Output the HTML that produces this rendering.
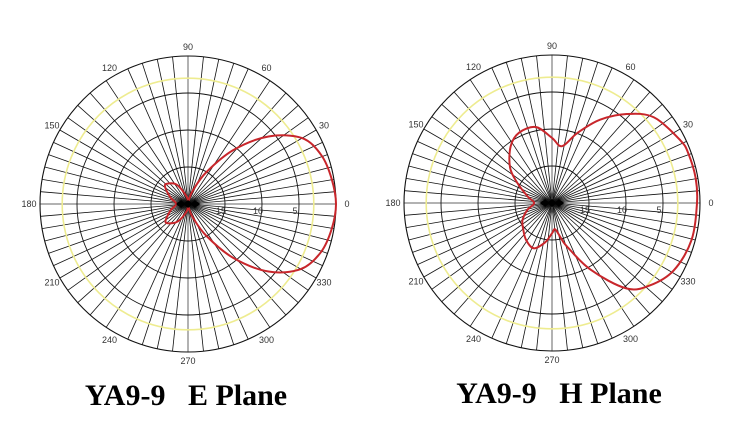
<!DOCTYPE html>
<html><head><meta charset="utf-8"><style>
body{margin:0;background:#fff;width:730px;height:432px;overflow:hidden}
svg{display:block}
.t{font-family:"Liberation Serif",serif;font-weight:bold;font-size:30px}
.l{font-family:"Liberation Sans",sans-serif;font-size:9px;fill:#333}
</style></head><body>
<svg width="730" height="432">
<g id="e"></g>
<g id="h"></g>
<text class="t" x="186" y="405" text-anchor="middle" xml:space="preserve">YA9-9   E Plane</text>
<text class="t" x="559" y="403" text-anchor="middle" xml:space="preserve">YA9-9   H Plane</text>
</svg>
<script>
const angleLabels=[0,30,60,90,120,150,180,210,240,270,300,330];
const ringLabels=[15,10,5];
const eAngles=[0,10,20,30,40,50,60,70,80,90,100,120,135,143,160,180,200,217,225,240,260,270,280,290,300,310,320,330,340,350];
const eGain=[0,-0.3,-0.8,-2.2,-5.8,-10.5,-15,-18,-19.5,-20,-19,-17,-16.1,-16.1,-17.5,-18.4,-17.5,-16.2,-16.3,-17.3,-19,-20,-19.5,-18,-15,-10.5,-5.8,-2.4,-0.9,-0.3];
const hAngles=[0,10,20,26,40,50,60,70,80,90,102,115,126,140,150,165,180,195,210,223,235,248,260,270,277,285,289,300,311,320,331,345];
const hGain=[-0.4,-0.3,-0.4,-0.7,-2.0,-4.3,-7.0,-9.9,-12.2,-11.2,-9.5,-9.5,-10.5,-12.6,-14.6,-16.6,-17.6,-16.6,-15.4,-14.7,-13.9,-13.4,-14.6,-15.9,-16.4,-14.9,-13.8,-9.6,-4.7,-2.7,-1.2,-0.5];
const NS="http://www.w3.org/2000/svg";
const R=148,minDb=-20;
function rScale(db){return (db-minDb)/(-minDb)*R;}
function mk(p,tag,at){const e=document.createElementNS(NS,tag);for(const k in at)e.setAttribute(k,at[k]);p.appendChild(e);return e;}
function draw(g,cx,cy,angs,gains,pre){
  const sp=[];
  for(let k=-10;k<=10;k++){const a=Math.asin(k/12)*180/Math.PI;sp.push(a,180-a);}
  [66,72,78,84,96,102,108,114,246,252,258,264,276,282,288,294].forEach(a=>sp.push(a));
  sp.forEach(a=>{const t=a*Math.PI/180;
    const ln=mk(g,'line',{x1:cx,y1:cy,x2:cx+R*Math.cos(t),y2:cy-R*Math.sin(t),stroke:'#111','stroke-width':0.8});
    
    });
  [0,90].forEach(a=>{const t=a*Math.PI/180;
    const ln=mk(g,'line',{x1:cx-R*Math.cos(t),y1:cy+R*Math.sin(t),x2:cx+R*Math.cos(t),y2:cy-R*Math.sin(t),stroke:'#666','stroke-width':1});
    
    });
  [-15,-10,-5].forEach(d=>{const c=mk(g,'circle',{cx:cx,cy:cy,r:rScale(d),fill:'none',stroke:'#111','stroke-width':0.9});
    
    });
  const y=mk(g,'circle',{cx:cx,cy:cy,r:rScale(-3),fill:'none',stroke:'#eeec90','stroke-width':1.6});
  
  
  const o=mk(g,'circle',{cx:cx,cy:cy,r:R,fill:'none',stroke:'#111','stroke-width':1.1});
  
  
  angleLabels.forEach(a=>{const t=a*Math.PI/180;const lr=R+(a%180==0?11:9);
    const tx=mk(g,'text',{x:cx+lr*Math.cos(t),y:cy-lr*Math.sin(t)+3,'text-anchor':'middle',class:'l'});
    tx.textContent=a;
    
    });
  ringLabels.forEach(v=>{const tx=mk(g,'text',{x:cx+rScale(-v)-4,y:cy+10,'text-anchor':'middle',class:'l'});
    tx.textContent=v;
    
    });
  const pts=angs.map((a,i)=>{const t=a*Math.PI/180,r=rScale(gains[i]);return [cx+r*Math.cos(t),cy-r*Math.sin(t)];});
  const n=pts.length;let d='M'+pts[0][0].toFixed(1)+','+pts[0][1].toFixed(1);
  for(let i=0;i<n;i++){const p0=pts[(i-1+n)%n],p1=pts[i],p2=pts[(i+1)%n],p3=pts[(i+2)%n];
    d+=' C'+(p1[0]+(p2[0]-p0[0])/6).toFixed(1)+','+(p1[1]+(p2[1]-p0[1])/6).toFixed(1)+' '+(p2[0]-(p3[0]-p1[0])/6).toFixed(1)+','+(p2[1]-(p3[1]-p1[1])/6).toFixed(1)+' '+p2[0].toFixed(1)+','+p2[1].toFixed(1);}
  const pa=mk(g,'path',{d:d+'Z',fill:'none',stroke:'#c8262b','stroke-width':2});
  
  
  [-7,0,7].forEach(dx=>{const m=mk(g,'path',{d:`M${cx+dx-5},${cy} L${cx+dx},${cy-4} L${cx+dx+5},${cy} L${cx+dx},${cy+4}Z`,fill:'#000'});
    
    });
}
draw(document.getElementById('e'),188,204,eAngles,eGain,'e-plane');
draw(document.getElementById('h'),552,203,hAngles,hGain,'h-plane');
</script>
</body></html>
